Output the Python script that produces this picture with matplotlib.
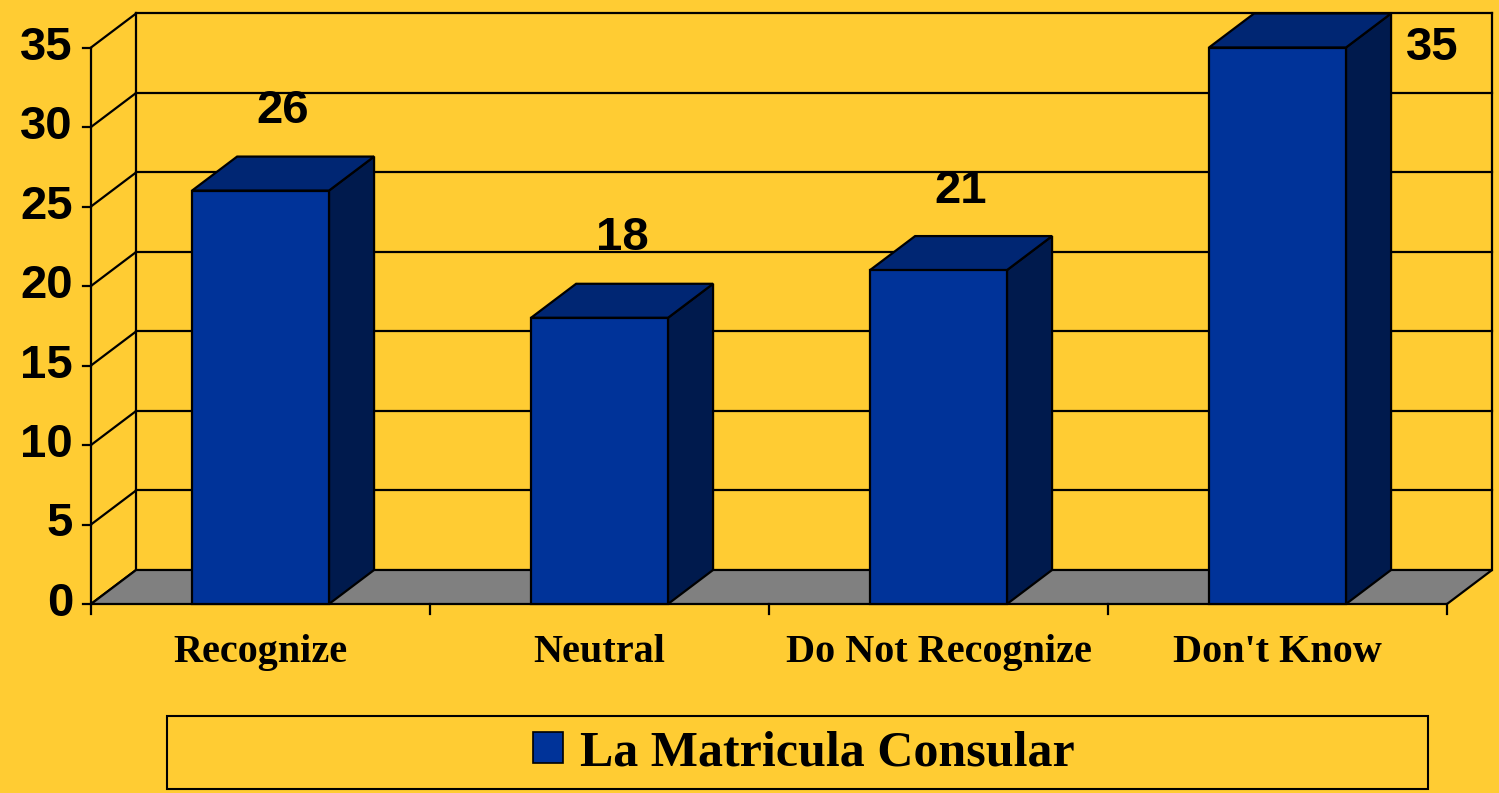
import numpy as np
import matplotlib.pyplot as plt
from matplotlib.patches import Polygon, Rectangle, Patch

# survey results
categories = ["Recognize", "Neutral", "Do Not Recognize", "Don't Know"]
values = [26, 18, 21, 35]
series_name = "La Matricula Consular"
yticks = [0, 5, 10, 15, 20, 25, 30, 35]

bg = "#FFCC33"
front_col = "#003399"
top_col = "#002673"
side_col = "#001A4D"
floor_col = "#808080"

# pseudo 3d depth offset, in data units
dx = 0.133
dy = 2.14
bar_w = 0.404
lw = 1.6

fig = plt.figure(figsize=(14.99, 7.93), dpi=100, facecolor=bg)
ax = fig.add_axes([0, 0, 1, 1])
ax.set_facecolor(bg)
ax.set_xlim(-91 / 339, (1499 - 91) / 339)
ax.set_ylim(-189 / 15.9, (793 - 189) / 15.9)
ax.axis("off")

n = len(categories)
ymax = yticks[-1]

# floor
ax.add_patch(Polygon([(0, 0), (n, 0), (n + dx, dy), (dx, dy)],
                     closed=True, facecolor=floor_col, edgecolor="black", lw=lw, zorder=1))

# back wall gridlines and left side wall
for v in yticks:
    if v > 0:
        ax.plot([dx, n + dx], [v + dy, v + dy], color="black", lw=lw, zorder=0.5)
    ax.plot([0, dx], [v, v + dy], color="black", lw=lw, zorder=0.5)
    ax.plot([-0.024, 0], [v, v], color="black", lw=lw, zorder=0.5)
    ax.text(-0.053, v, str(v), ha="right", va="center", fontsize=34,
            fontweight="bold", family="Liberation Sans")
ax.plot([dx, dx], [dy, ymax + dy], color="black", lw=lw, zorder=0.5)
ax.plot([n + dx, n + dx], [dy, ymax + dy], color="black", lw=lw, zorder=0.5)
ax.plot([0, 0], [0, ymax], color="black", lw=lw, zorder=0.5)

# category ticks along the floor
for i in range(n + 1):
    ax.plot([i, i], [0, -0.6], color="black", lw=lw, zorder=2)

# bars
for i, (cat, v) in enumerate(zip(categories, values)):
    c = i + 0.5
    x0, x1 = c - bar_w / 2, c + bar_w / 2
    ax.add_patch(Polygon([(x1, 0), (x1 + dx, dy), (x1 + dx, v + dy), (x1, v)],
                         closed=True, facecolor=side_col, edgecolor="black", lw=lw, zorder=3))
    ax.add_patch(Polygon([(x0, v), (x1, v), (x1 + dx, v + dy), (x0 + dx, v + dy)],
                         closed=True, facecolor=top_col, edgecolor="black", lw=lw, zorder=3))
    ax.add_patch(Rectangle((x0, 0), bar_w, v, facecolor=front_col,
                           edgecolor="black", lw=lw, zorder=4))
    if v + 5 > ymax + dy:
        ax.text(x1 + dx + 0.045, v, str(v), ha="left", va="center", fontsize=34,
                fontweight="bold", family="Liberation Sans", zorder=5)
    else:
        ax.text(c + dx / 2, v + 5, str(v), ha="center", va="center", fontsize=34,
                fontweight="bold", family="Liberation Sans", zorder=5)
    ax.text(c, -3.65, cat, ha="center", va="baseline", fontsize=29,
            fontweight="bold", family="Liberation Serif")

# legend box
fig.patches.append(Rectangle((167 / 1499, 4 / 793), 1261 / 1499, 73 / 793,
                             transform=fig.transFigure, facecolor="none",
                             edgecolor="black", lw=1.5))
leg = ax.legend(handles=[Patch(facecolor=front_col, edgecolor="black", lw=1.2, label=series_name)],
                loc="center", bbox_to_anchor=(804 / 1499, 40 / 793),
                bbox_transform=fig.transFigure, frameon=False,
                prop={"family": "Liberation Serif", "weight": "bold", "size": 36},
                handlelength=0.6, handleheight=0.6, handletextpad=0.35)

fig.savefig("out.png", dpi=100, facecolor=bg)
